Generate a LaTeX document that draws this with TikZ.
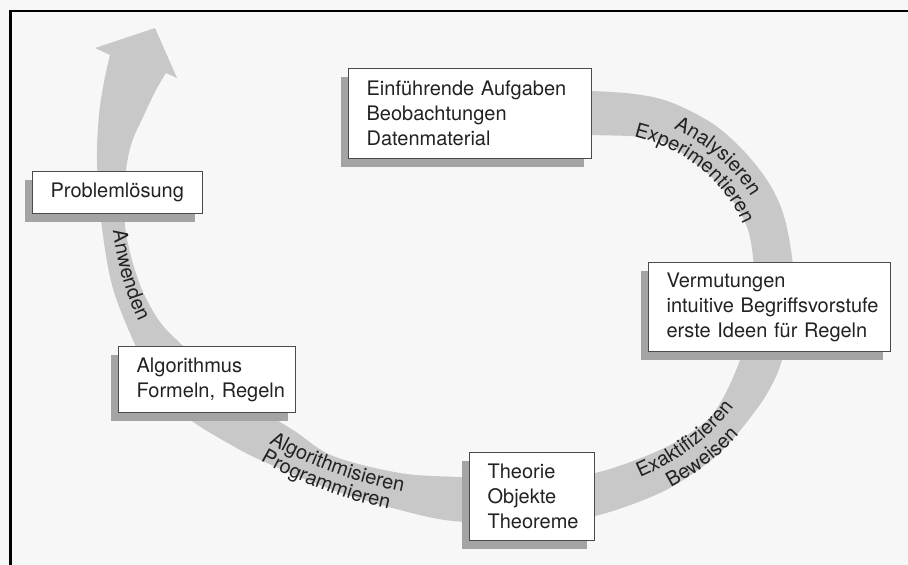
\documentclass[tikz,border=0pt]{standalone}
\usepackage{fontspec}
\setmainfont{TeX Gyre Heros}
\usetikzlibrary{decorations.text,shadows,calc}
\definecolor{bg}{HTML}{F7F7F7}
\definecolor{bandgray}{HTML}{C8C8C8}
\definecolor{shadowgray}{HTML}{A4A4A4}
\definecolor{boxline}{HTML}{4A4A4A}
\definecolor{ink}{HTML}{222222}
\newcommand\lblfont{\fontsize{20}{24}\selectfont}
\begin{document}
\begin{tikzpicture}[x=1pt,y=1pt,
  box/.style={draw=boxline, fill=white, line width=1.2pt, align=left, anchor=north west,
    inner xsep=18pt, inner ysep=0pt, text=ink,
    font=\fontsize{20}{25}\selectfont,
    drop shadow={shadow xshift=-8pt, shadow yshift=-8pt, opacity=1, fill=shadowgray}},
  lbl/.style={decorate, decoration={text along path, text align=center, text color=ink}},
  frame/.style={line width=2.3pt, black}
]
\fill[bg] (0,0) rectangle (908,-565);
\useasboundingbox (0,0) rectangle (908,-565);
\draw[frame] (908,-11) -- (10.5,-11) -- (10.5,-565);

% band with arrow head
\fill[bandgray]
  plot[smooth, tension=0.55] coordinates {(480,-92) (590,-91) (657,-98) (707,-120) (740,-147) (767,-180) (783,-213) (792,-257) (794,-300) (782,-360) (768,-392) (750,-418) (730,-442) (705,-465) (660,-493) (595,-516) (530,-524) (453,-521) (400,-510) (333,-490) (267,-463) (233,-446) (188,-418) (155,-383) (133,-340) (112,-285) (101,-220) (97,-160) (99,-115) (104,-82) (110,-55)}
  -- (95,-48) -- (155,-28) -- (177,-78)
  -- plot[smooth, tension=0.55] coordinates {(166,-73) (156,-90) (144,-115) (131,-145) (125,-180) (125,-225) (132,-260) (143,-292) (160,-322) (182,-345) (230,-390) (293,-430) (333,-456) (400,-473) (460,-477) (530,-479) (595,-473) (660,-450) (703,-424) (722,-400) (740,-360) (750,-320) (753,-280) (753,-257) (747,-227) (730,-197) (700,-167) (657,-140) (590,-135) (480,-135)}
  -- cycle;

% labels on the band
\path[lbl, decoration={text={|\lblfont|Analysieren}}]
  ($(590,-274)+(92:183 and 163)$) arc[start angle=92, end angle=-4, x radius=183, y radius=163];
\path[lbl, decoration={text={|\lblfont|Experimentieren}}]
  ($(590,-274)+(94:163 and 143)$) arc[start angle=94, end angle=-2, x radius=163, y radius=143];
\path[lbl, decoration={text={|\lblfont|Exaktifizieren}}]
  ($(530,-300)+(-93:241 and 200)$) arc[start angle=-93, end angle=3, x radius=241, y radius=200];
\path[lbl, decoration={text={|\lblfont|Beweisen}}]
  ($(530,-300)+(-93:263 and 222)$) arc[start angle=-93, end angle=3, x radius=263, y radius=222];
\path[lbl, decoration={text={|\lblfont|Algorithmisieren}}]
  ($(510,-302)+(-154:340 and 200)$) arc[start angle=-154, end angle=-94, x radius=340, y radius=200];
\path[lbl, decoration={text={|\lblfont|Programmieren}}]
  ($(510,-302)+(-154:360 and 220)$) arc[start angle=-154, end angle=-94, x radius=360, y radius=220];
\path[lbl, decoration={text={|\lblfont|Anwenden}}]
  (110,-180) .. controls (110,-260) and (130,-318) .. (165,-365);

% boxes
\node[box, minimum width=243pt, minimum height=90pt, text width=207pt] (E) at (348,-68)
  {\mbox{Einführende Aufgaben}\\\mbox{Beobachtungen}\\\mbox{Datenmaterial}};
\node[box, minimum width=170pt, minimum height=42pt, text width=134pt] (P) at (32,-171)
  {\mbox{Problemlösung}};
\node[box, minimum width=242pt, minimum height=89pt, text width=206pt] (V) at (648,-262)
  {\mbox{Vermutungen}\\\mbox{intuitive Begriffsvorstufe}\\\mbox{erste Ideen für Regeln}};
\node[box, minimum width=177pt, minimum height=66pt, text width=141pt] (A) at (118,-346)
  {\mbox{Algorithmus}\\\mbox{Formeln, Regeln}};
\node[box, minimum width=125pt, minimum height=88pt, text width=89pt] (T) at (469,-452)
  {\mbox{Theorie}\\\mbox{Objekte}\\\mbox{Theoreme}};
\end{tikzpicture}
\end{document}
